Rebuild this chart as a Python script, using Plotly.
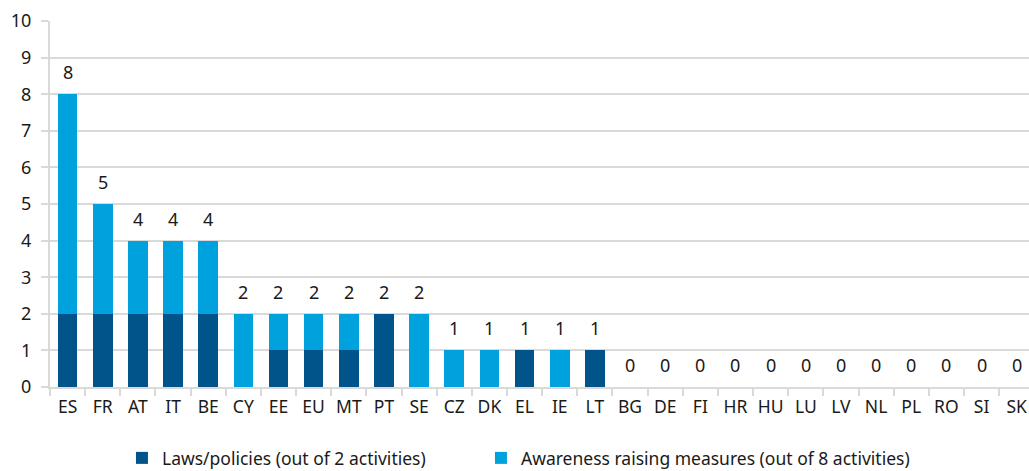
import plotly.graph_objects as go

countries = ["ES", "FR", "AT", "IT", "BE", "CY", "EE", "EU", "MT", "PT", "SE",
             "CZ", "DK", "EL", "IE", "LT", "BG", "DE", "FI", "HR", "HU", "LU",
             "LV", "NL", "PL", "RO", "SI", "SK"]
laws = [2, 2, 2, 2, 2, 0, 1, 1, 1, 2, 0, 0, 0, 1, 0, 1,
        0, 0, 0, 0, 0, 0, 0, 0, 0, 0, 0, 0]
awareness = [6, 3, 2, 2, 2, 2, 1, 1, 1, 0, 2, 1, 1, 0, 1, 0,
             0, 0, 0, 0, 0, 0, 0, 0, 0, 0, 0, 0]
totals = [a + b for a, b in zip(laws, awareness)]
y_ticks = list(range(0, 11))

DARK = "#00548a"
LIGHT = "#00a2de"
GRID = "#d9d9d9"
FONT = "Noto Sans"
TEXT = "#1a1a1a"

fig = go.Figure()
fig.add_trace(go.Bar(x=countries, y=laws, name="Laws/policies (out of 2 activities)",
                     marker=dict(color=DARK, line=dict(width=0)), width=0.56,
                     legend="legend"))
fig.add_trace(go.Bar(x=countries, y=awareness,
                     name="Awareness raising measures (out of 8 activities)",
                     marker=dict(color=LIGHT, line=dict(width=0)), width=0.56,
                     legend="legend2"))

# total per country above each stack
for c, t in zip(countries, totals):
    fig.add_annotation(x=c, y=t, text=str(t), showarrow=False, yanchor="bottom",
                       yshift=8, font=dict(size=18, color=TEXT, family=FONT))

legend_style = dict(orientation="h", yanchor="middle", y=-0.194, xanchor="left",
                    font=dict(size=17.5, family=FONT, color=TEXT),
                    bgcolor="rgba(0,0,0,0)", itemwidth=30)

fig.update_layout(
    barmode="stack",
    width=1029, height=471,
    margin=dict(l=50, r=0, t=21, b=84, autoexpand=False),
    plot_bgcolor="white", paper_bgcolor="white",
    font=dict(family=FONT, size=17, color=TEXT),
    showlegend=True,
    legend=dict(legend_style, x=0.0735),
    legend2=dict(legend_style, x=0.4402),
    xaxis=dict(range=[-0.5, 27.35], showgrid=False, showline=True, linecolor=GRID,
               linewidth=2, ticks="outside", tickson="boundaries", ticklen=7,
               tickcolor=GRID, tickwidth=2, tickfont=dict(size=17.5),
               tickangle=0, ticklabelstandoff=3),
    yaxis=dict(range=[0, 10], tickvals=y_ticks, showgrid=True, gridcolor=GRID,
               gridwidth=2, showline=True, linecolor=GRID, linewidth=2,
               ticks="outside", ticklen=7, tickcolor=GRID, tickwidth=2,
               tickfont=dict(size=18), ticklabelstandoff=6, zeroline=False),
)

fig.write_html("out.html")
